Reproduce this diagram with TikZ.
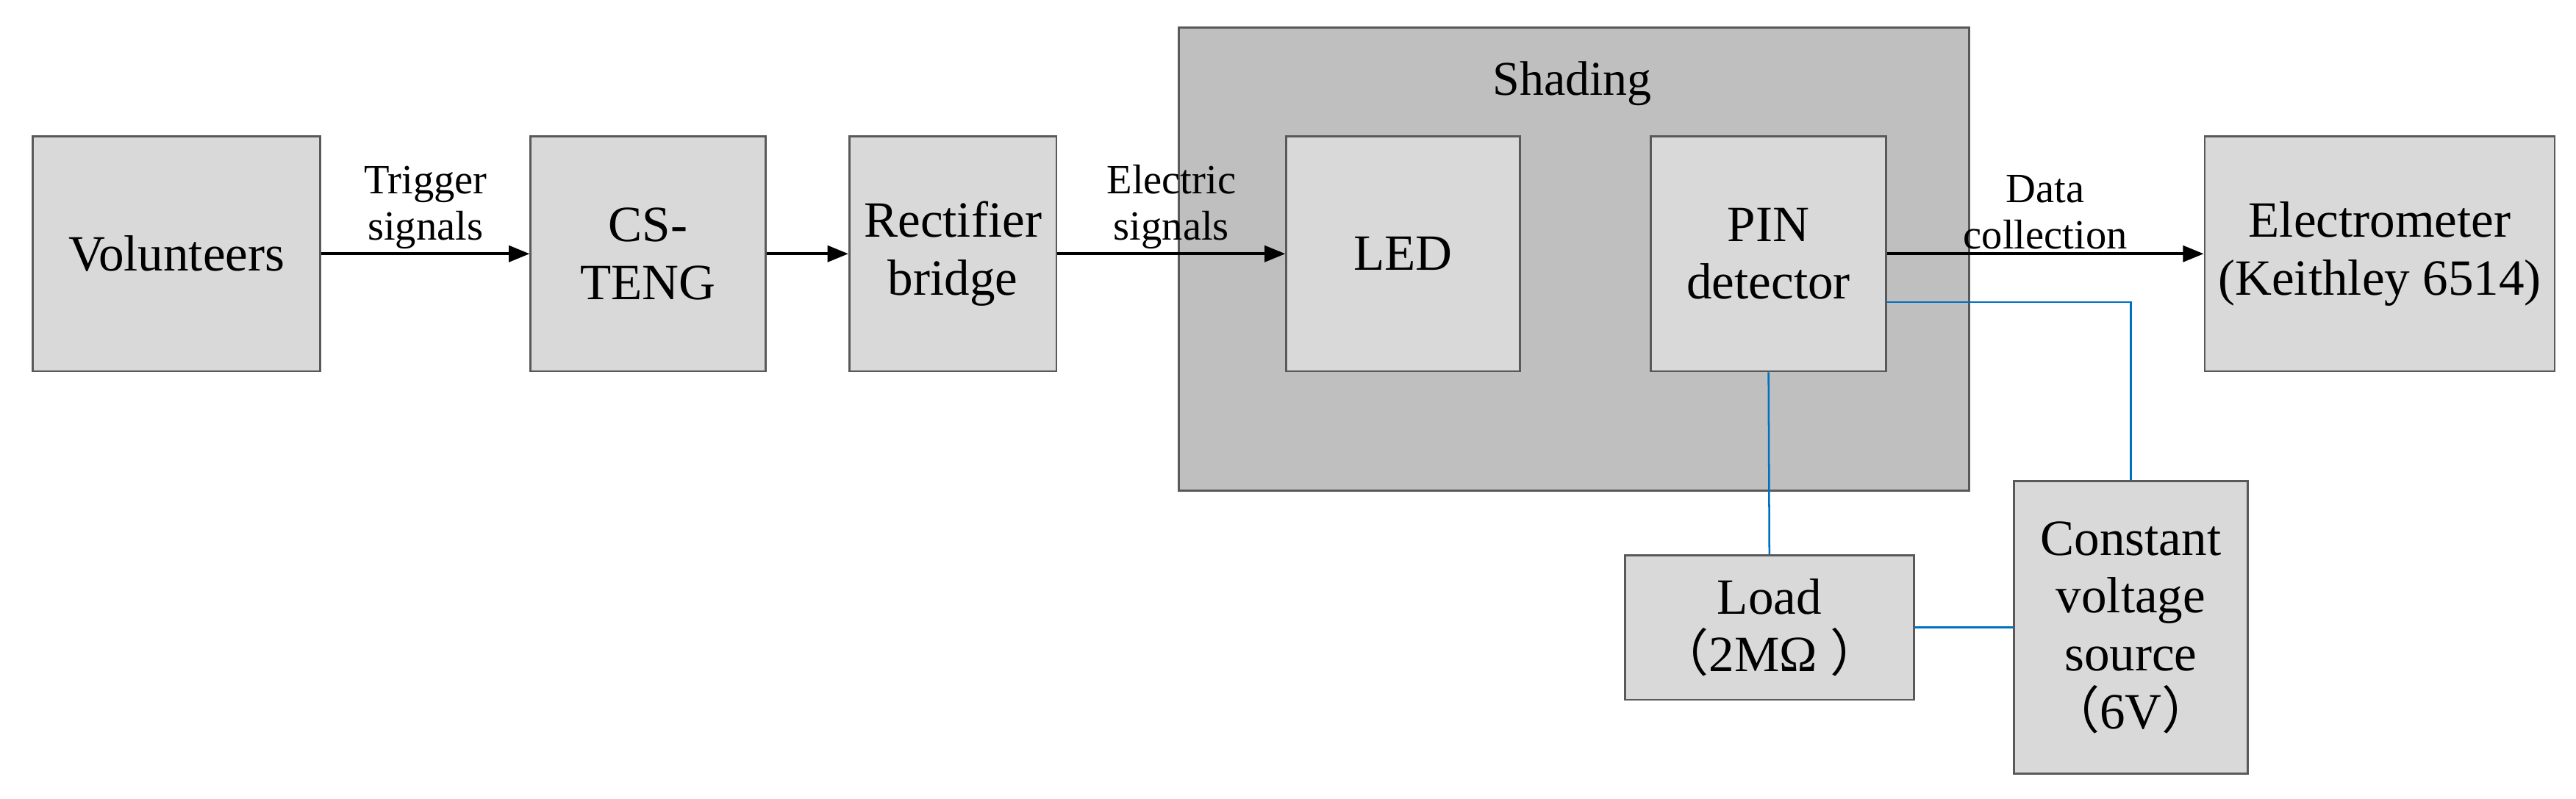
\documentclass[tikz,border=0pt]{standalone}
\usepackage{fontspec}
\setmainfont{Liberation Serif}
\newfontfamily\cjk{Noto Sans CJK SC}
\usetikzlibrary{arrows.meta}
\definecolor{boxfill}{HTML}{D9D9D9}
\definecolor{shadefill}{HTML}{BFBFBF}
\definecolor{wire}{HTML}{0070C0}
\begin{document}
\begin{tikzpicture}[x=0.05cm,y=-0.05cm,
  blk/.style={draw=black!65,line width=1.8pt,fill=boxfill,inner sep=0pt,align=center,font=\fontsize{44}{50}\selectfont},
  lbl/.style={align=center,font=\fontsize{36}{40}\selectfont,inner sep=0pt},
  arr/.style={-{Triangle[length=18pt,width=14pt]},line width=2.4pt},
  bl/.style={wire,line width=1.6pt}]
\useasboundingbox (0,0) rectangle (1568,486);
% shading enclosure
\node[blk,fill=shadefill,minimum width=481*0.05cm,minimum height=282*0.05cm,anchor=north west] (sh) at (717,16) {};
\node[font=\fontsize{42}{46}\selectfont] (shl) at (957,51) {Shading};
% blocks
\node[blk,minimum width=175*0.05cm,minimum height=143*0.05cm] (vol) at (107.5,154.5) {Volunteers};
\node[blk,minimum width=143*0.05cm,minimum height=143*0.05cm] (cs) at (394.5,154.5) {CS-\\TENG};
\node[blk,minimum width=126*0.05cm,minimum height=143*0.05cm] (rb) at (580,154.5) {Rectifier\\bridge};
\node[blk,minimum width=142*0.05cm,minimum height=143*0.05cm] (led) at (854,154.5) {LED};
\node[blk,minimum width=143*0.05cm,minimum height=143*0.05cm] (pin) at (1076.5,154.5) {PIN\\detector};
\node[blk,minimum width=213*0.05cm,minimum height=143*0.05cm] (em) at (1448.5,154.5) {Electrometer\\(Keithley 6514)};
\node[blk,minimum width=176*0.05cm,minimum height=88*0.05cm] (load) at (1077,382) {Load\\{\cjk （}2MΩ {\cjk ）}};
\node[blk,minimum width=142*0.05cm,minimum height=178*0.05cm] (cvs) at (1297,382) {Constant\\voltage\\source\\{\cjk （}6V{\cjk ）}};
% signal arrows
\draw[arr] (vol) -- node[lbl,above=3pt] {Trigger\\signals} (cs);
\draw[arr] (cs) -- (rb);
\draw[arr] (rb) -- node[lbl,above=3pt] {Electric\\signals} (led);
\draw[arr] (pin) -- node[lbl,above=3pt] {Data\\collection} (em);
% wires
\coordinate (pr) at (pin.east |- 0,184);
\draw[bl] (pr) -| (cvs.north);
\draw[bl] (pin.south) -- (load.north);
\draw[bl] (load.east) -- (cvs.west);
\end{tikzpicture}
\end{document}
